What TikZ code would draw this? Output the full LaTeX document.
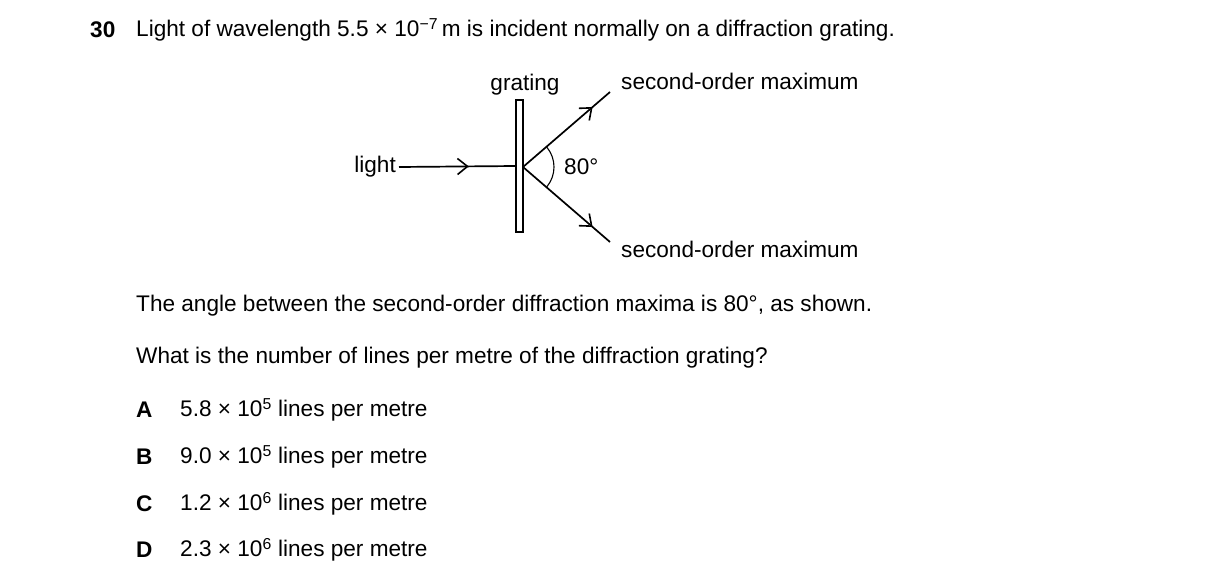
\documentclass[tikz,border=0pt]{standalone}
\usepackage{fontspec}
\setmainfont{Liberation Sans}
\usetikzlibrary{arrows.meta,decorations.markings}
\newcommand{\sps}[1]{\textsuperscript{#1}}
\begin{document}
\begin{tikzpicture}[x=1pt,y=-1pt,
  txt/.style={font=\fontsize{22.6}{26}\selectfont,inner sep=0pt},
  ray/.style={line width=1.7pt},
  midarrow/.style={postaction={decorate},decoration={markings,mark=at position #1 with {\arrow{Straight Barb[length=10pt,width=16pt,line width=1.6pt]}}}}]
\useasboundingbox (0,0) rectangle (1216,586);
\node[txt,font=\fontsize{22.6}{26}\selectfont\bfseries,anchor=west] (num) at (90,30) {30};
\node[txt,anchor=west] (t1) at (136,30) {Light of wavelength 5.5 × 10\sps{−7}\,m is incident normally on a diffraction grating.};
\coordinate (o) at (523,167);
\node[draw,line width=1.4pt,minimum width=7pt,minimum height=132pt,inner sep=0pt] (gr) at (519.5,166) {};
\node[txt,anchor=east] (light) at (396,167) {light};
\node[txt] (grl) at (525,85) {grating};
\node[txt,anchor=west] (s1) at (621,81) {second-order maximum};
\node[txt,anchor=west] (s2) at (621,249) {second-order maximum};
\coordinate (u) at (610,92);
\coordinate (l) at (610,242);
\draw[ray,midarrow=0.6] (light.east) ++(3,0) coordinate (ls) -- (gr.west);
\draw[ray,midarrow=0.8] (o) -- (u);
\draw[ray,midarrow=0.8] (o) -- (l);
\draw[line width=1.1pt] (o) ++(-40:31) arc[start angle=-40,end angle=40,radius=31];
\node[txt,anchor=west] (ang) at (564,167) {80°};
\node[txt,anchor=west] (q1) at (136,306) {The angle between the second-order diffraction maxima is 80°, as shown.};
\node[txt,anchor=west] (q2) at (136,358) {What is the number of lines per metre of the diffraction grating?};
\foreach \L/\T/\y in {A/5.8 × 10\sps{5} lines per metre/410, B/9.0 × 10\sps{5} lines per metre/457, C/1.2 × 10\sps{6} lines per metre/504, D/2.3 × 10\sps{6} lines per metre/550}{
  \node[txt,font=\fontsize{22.6}{26}\selectfont\bfseries,anchor=west] (o\L) at (136,\y) {\L};
  \node[txt,anchor=west] (a\L) at (180,\y) {\T};
}
\end{tikzpicture}
\end{document}
